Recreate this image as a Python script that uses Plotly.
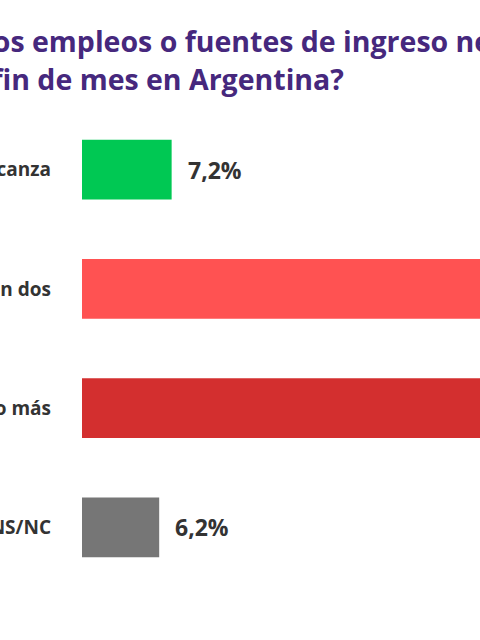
import plotly.graph_objects as go

# datos del grafico
categorias = ["Con uno alcanza", "Se necesitan dos", "Tres o más", "NS/NC"]
valores = [7.2, 45.9, 40.7, 6.2]
etiquetas = ["7,2%", "45,9%", "40,7%", "6,2%"]
colores = ["#00c853", "#ff5252", "#d32f2f", "#767676"]

titulo_1 = "¿Cuántos empleos o fuentes de ingreso necesitás para"
titulo_2 = "llegar a fin de mes en Argentina?"

# area del grafico (px)
W, H = 480, 640
L, T, B = 82, 110, 53
ancho = W - L
alto = H - T - B
escala = 12.45  # px por punto porcentual


def px_x(p):
    return (p - L) / ancho


def px_y(p):
    return (H - B - p) / alto


fig = go.Figure(
    data=go.Bar(
        x=valores,
        y=categorias,
        orientation="h",
        marker=dict(color=colores, line=dict(width=0)),
        width=0.5,
        hoverinfo="skip",
    )
)

# etiquetas de valor a la derecha de cada barra
for v, c, t in zip(valores, categorias, etiquetas):
    fig.add_annotation(
        x=v, y=c, text="<b>" + t + "</b>", showarrow=False,
        xanchor="left", xshift=14,
        font=dict(family="Open Sans", size=23, color="#333333"),
    )

# titulo (dos lineas)
fig.add_annotation(
    xref="paper", yref="paper", x=px_x(-108), y=px_y(41),
    text="<b>" + titulo_1 + "</b>", showarrow=False,
    xanchor="left", yanchor="middle",
    font=dict(family="Open Sans", size=28.5, color="#46287d"),
)
fig.add_annotation(
    xref="paper", yref="paper", x=px_x(346), y=px_y(79),
    text="<b>" + titulo_2 + "</b>", showarrow=False,
    xanchor="right", yanchor="middle",
    font=dict(family="Open Sans", size=28.5, color="#46287d"),
)

fig.update_layout(
    width=W, height=H,
    margin=dict(l=L, r=0, t=T, b=B, pad=0, autoexpand=False),
    paper_bgcolor="white",
    plot_bgcolor="white",
    showlegend=False,
    xaxis=dict(range=[0, ancho / escala], visible=False, fixedrange=True,
               automargin=False),
    yaxis=dict(
        autorange="reversed", automargin=False,
        showgrid=False, zeroline=False, showline=False, ticks="",
        ticklabelstandoff=30,
        tickfont=dict(family="Open Sans", size=19, color="#333333", weight="bold"),
        fixedrange=True,
    ),
)

# sin margen del body para que la figura ocupe toda la ventana
fig.write_html("out.html", config={"displayModeBar": False},
               post_script="document.body.style.margin='0';")
